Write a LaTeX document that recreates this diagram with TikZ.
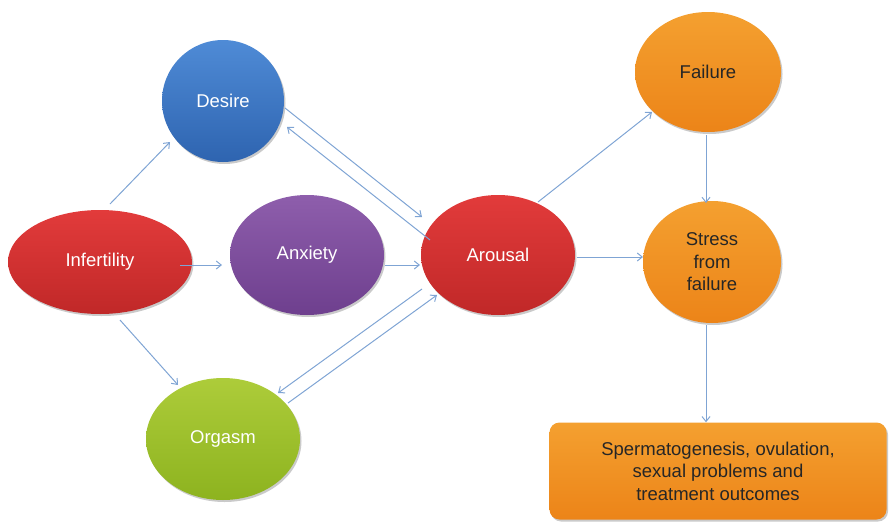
\documentclass[tikz,border=0pt]{standalone}
\usepackage{fontspec}
\setmainfont{Liberation Sans}
\usetikzlibrary{shapes.geometric,arrows.meta,shadows,calc}
\definecolor{arrowblue}{HTML}{7FA4D4}
\definecolor{blueT}{HTML}{4F8BD6}\definecolor{blueB}{HTML}{2E64B0}
\definecolor{redT}{HTML}{E23B3B}\definecolor{redB}{HTML}{C02828}
\definecolor{purT}{HTML}{8E5EAC}\definecolor{purB}{HTML}{6E3F8E}
\definecolor{grnT}{HTML}{ADCC3A}\definecolor{grnB}{HTML}{8DB31F}
\definecolor{orT}{HTML}{F4A030}\definecolor{orB}{HTML}{EC8418}
\begin{document}
\begin{tikzpicture}[x=1pt,y=-1pt,
  bubble/.style={ellipse,inner sep=0pt,
    drop shadow={shadow xshift=1.5pt,shadow yshift=-2pt,opacity=0.35,fill=black!60},
    font=\fontsize{18.5}{22.5}\selectfont,align=center},
  whitetxt/.style={text=white},
  darktxt/.style={text=black!85},
  bl/.style={top color=blueT,bottom color=blueB},
  rd/.style={top color=redT,bottom color=redB},
  pu/.style={top color=purT,bottom color=purB},
  gr/.style={top color=grnT,bottom color=grnB},
  og/.style={top color=orT,bottom color=orB},
  arr/.style={draw=arrowblue,line width=1pt,-{Straight Barb[length=5pt,width=8pt,line width=1pt]}}]
\useasboundingbox (0,0) rectangle (889,522);
\node[bubble,bl,whitetxt,minimum width=122pt,minimum height=122pt] (des) at (223,101) {Desire};
\node[bubble,rd,whitetxt,minimum width=184pt,minimum height=104pt] (inf) at (100,262) {Infertility};
\node[bubble,pu,whitetxt,minimum width=154pt,minimum height=120pt] (anx) at (307,255) {Anxiety};
\node[bubble,rd,whitetxt,minimum width=154pt,minimum height=120pt] (aro) at (498,255) {Arousal};
\node[bubble,gr,whitetxt,minimum width=154pt,minimum height=122pt] (org) at (223,439) {Orgasm};
\node[bubble,og,darktxt,minimum width=146pt,minimum height=120pt] (fail) at (708,72) {Failure};
\node[bubble,og,darktxt,minimum width=138pt,minimum height=122pt] (str) at (712,262) {Stress\\from\\failure};
\node[rectangle,rounded corners=10pt,og,darktxt,minimum width=337pt,minimum height=97pt,
  drop shadow={shadow xshift=1.5pt,shadow yshift=-2pt,opacity=0.35,fill=black!60},
  font=\fontsize{18.5}{22.5}\selectfont,align=center] (box) at (718,471)
  {Spermatogenesis, ovulation,\\sexual problems and\\treatment outcomes};
% connectors
\draw[arr] ($(inf)+(10,-58)$) -- ($(des)+(-53,41)$);
\draw[arr] ($(inf)+(80,3)$) -- ($(anx)+(-85,10)$);
\draw[arr] ($(inf)+(20,58)$) -- ($(org)+(-45,-54)$);
\draw[arr] ($(anx)+(78,10)$) -- ($(aro)+(-78,10)$);
\draw[arr] ($(des)+(62,7)$) -- ($(aro)+(-76,-38)$);
\draw[arr] ($(aro)+(-68,-15)$) -- ($(des)+(64,26)$);
\draw[arr] ($(aro)+(-76,34)$) -- ($(org)+(55,-46)$);
\draw[arr] ($(org)+(65,-36)$) -- ($(aro)+(-61,40)$);
\draw[arr] ($(aro)+(40,-53)$) -- ($(fail)+(-56,40)$);
\draw[arr] ($(aro)+(79,2)$) -- ($(str)+(-69,-5)$);
\draw[arr] ($(fail)+(-2,63)$) -- ($(str)+(-6,-59)$);
\draw[arr] ($(str)+(-6,63)$) -- ($(box.north)+(-12,0)$);
\end{tikzpicture}
\end{document}
